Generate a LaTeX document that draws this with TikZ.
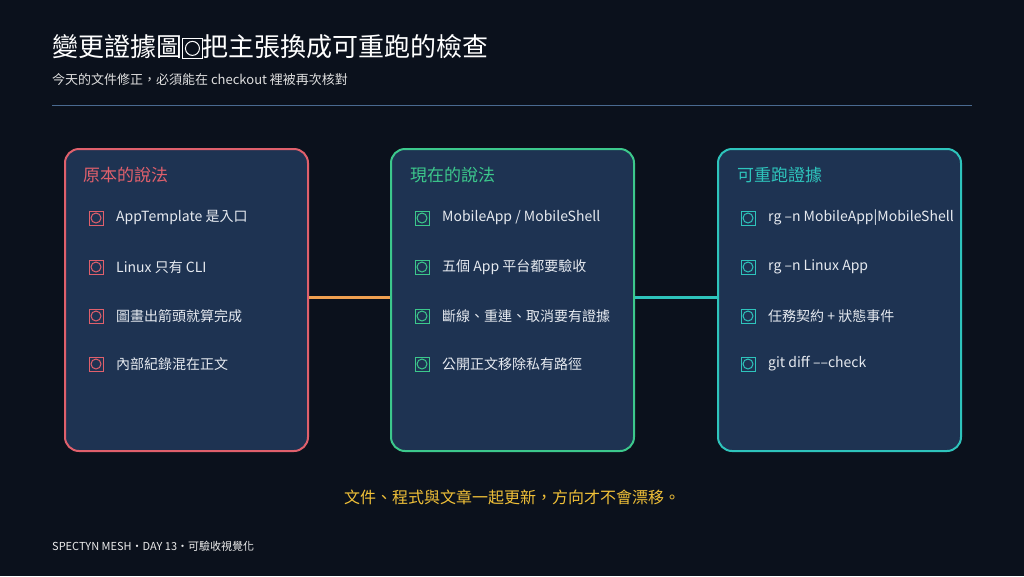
\documentclass[tikz,border=0pt]{standalone}
\usepackage{fontspec}
\setmainfont{Noto Sans CJK TC}
\begin{document}
\begin{tikzpicture}[x=1pt,y=-1pt,
  card/.style={draw=#1,line width=2pt,fill=cardbg,rounded corners=14pt},
  head/.style={anchor=west,text=#1,font=\fontsize{17}{20}\selectfont},
  item/.style={anchor=west,text=itemtxt,font=\fontsize{14}{17}\selectfont},
  ico/.style={draw=#1,line width=1pt,minimum size=14pt,inner sep=0pt,
     path picture={\draw[#1,line width=1pt] (path picture bounding box.center) circle (5pt);}},
  link/.style={line width=3pt,draw=#1}]
\definecolor{bg}{HTML}{0B111C}
\definecolor{cardbg}{HTML}{1E3352}
\definecolor{itemtxt}{HTML}{E6EAF0}
\definecolor{cred}{HTML}{E0606C}
\definecolor{cgreen}{HTML}{3CC88C}
\definecolor{cteal}{HTML}{2EC4BC}
\definecolor{corange}{HTML}{F0A050}
\definecolor{cyellow}{HTML}{F0C038}
\definecolor{rule}{HTML}{4A6A90}
\fill[bg] (0,0) rectangle (1024,576);
\useasboundingbox (0,0) rectangle (1024,576);
\node[anchor=west,text=white,font=\fontsize{26}{30}\selectfont,inner sep=0] (title) at (52,47)
 {變更證據圖\tikz[x=1pt,y=1pt,baseline=0pt]{\draw[white,line width=1pt] (0.5pt,-1.5pt) rectangle (20pt,18.5pt); \draw[white,line width=1pt] (10.25pt,8.5pt) circle (7pt);}把主張換成可重跑的檢查};
\node[anchor=west,text=white!75!gray,font=\fontsize{13}{15}\selectfont,inner sep=0] (sub) at (52,80) {今天的文件修正，必須能在 checkout 裡被再次核對};
\draw[rule,line width=1pt] (52,105) coordinate (l1) -- (972,105) coordinate (l2);
\node[card=cred,minimum width=243pt,minimum height=302pt,anchor=north west] (A) at (64,148) {};
\node[card=cgreen,minimum width=243pt,minimum height=302pt,anchor=north west] (B) at (390,148) {};
\node[card=cteal,minimum width=243pt,minimum height=302pt,anchor=north west] (C) at (717,148) {};
\draw[link=corange] (A.east |- 0,297) -- (B.west |- 0,297);
\draw[link=cteal] (B.east |- 0,297) -- (C.west |- 0,297);
\node[head=cred,inner sep=0] (ha) at (83,175) {原本的說法};
\node[head=cgreen,inner sep=0] (hb) at (410,175) {現在的說法};
\node[head=cteal,inner sep=0] (hc) at (737,175) {可重跑證據};
\foreach \y/\t [count=\i] in {218/AppTemplate 是入口,267/Linux 只有 CLI,316/圖畫出箭頭就算完成,364/內部紀錄混在正文}{
  \node[ico=cred] (ia\i) at (96,\y) {};
  \node[item,inner sep=0] (ta\i) at (116,\y) {\t};}
\foreach \y/\t [count=\i] in {218/{MobileApp / MobileShell},267/五個 App 平台都要驗收,316/斷線、重連、取消要有證據,364/公開正文移除私有路徑}{
  \node[ico=cgreen] (ib\i) at (422,\y) {};
  \node[item,inner sep=0] (tb\i) at (442,\y) {\t};}
\foreach \y/\t [count=\i] in {218/rg –n MobileApp|MobileShell,267/rg –n Linux App,316/任務契約 + 狀態事件,364/git diff ––check}{
  \node[ico=cteal] (ic\i) at (748,\y) {};
  \node[item,inner sep=0] (tc\i) at (768,\y) {\t};}
\node[text=cyellow,font=\fontsize{16}{19}\selectfont] (bot) at (512,497) {文件、程式與文章一起更新，方向才不會漂移。};
\node[anchor=west,text=white!85!gray,font=\fontsize{11}{13}\selectfont,inner sep=0] (foot) at (52,546) {SPECTYN MESH・DAY 13・可驗收視覺化};
\end{tikzpicture}
\end{document}
